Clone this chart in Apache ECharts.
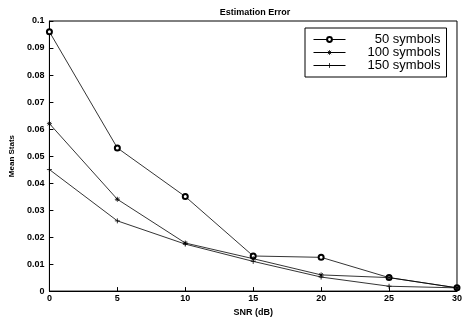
<!DOCTYPE html>
<html><head><meta charset="utf-8">
<script src="https://cdn.jsdelivr.net/npm/echarts@6/dist/echarts.min.js"></script>
<style>html,body{margin:0;padding:0;background:#fff}#c{width:465px;height:322px}</style>
</head><body><div id="c"></div>
<script>
const snr = [0, 5, 10, 15, 20, 25, 30];
const s50 = [0.096, 0.053, 0.035, 0.013, 0.0125, 0.005, 0.0012];
const s100 = [0.062, 0.034, 0.0178, 0.012, 0.006, 0.005, 0.0012];
const s150 = [0.045, 0.026, 0.0174, 0.011, 0.0052, 0.0018, 0.0012];
const names = ['50 symbols', '100 symbols', '150 symbols'];
const yTicks = [0, 0.01, 0.02, 0.03, 0.04, 0.05, 0.06, 0.07, 0.08, 0.09, 0.1];

const pair = a => snr.map((x, i) => [x, a[i]]);
const starPath = 'path://M0,-10L0,10M-10,0L10,0M-7,-7L7,7M-7,7L7,-7';
const plusPath = 'path://M0,-10L0,10M-10,0L10,0';
const font = '"Liberation Sans", Arial, sans-serif';

const chart = echarts.init(document.getElementById('c'));
const mk = (name, data, symbol, size) => ({
  name, type: 'line', data: pair(data), symbol, symbolSize: size,
  lineStyle: { color: '#000', width: 0.8 },
  itemStyle: { color: '#000', borderColor: '#000', borderWidth: 0.8 },
  emphasis: { disabled: true }, animation: false
});
chart.setOption({
  animation: false,
  title: { text: 'Estimation Error', left: 250, textAlign: 'center', top: 3,
    textStyle: { fontSize: 9, fontWeight: 'bold', fontFamily: font, color: '#000' } },
  grid: { left: 43, right: 7, top: 21, bottom: 25, show: true, borderColor: '#000', borderWidth: 1 },
  legend: {
    left: 305, top: 28, orient: 'vertical', itemWidth: 32, itemHeight: 6, itemGap: 0,
    padding: [5, 6, 5, 8], borderColor: '#000', borderWidth: 1, backgroundColor: '#fff',
    data: names,
    lineStyle: { width: 1 },
    itemStyle: { borderWidth: 0.8 },
    formatter: '{a|{name}}',
    textStyle: { color: '#000', fontFamily: font, fontSize: 13,
      rich: { a: { width: 90, align: 'right', fontSize: 13, lineHeight: 12, fontFamily: font } } }
  },
  xAxis: {
    type: 'value', min: 0, max: 30, interval: 5, name: 'SNR (dB)', nameLocation: 'middle', nameGap: 14,
    nameTextStyle: { fontSize: 9, fontWeight: 'bold', fontFamily: font, color: '#000' },
    axisLine: { lineStyle: { color: '#000' } },
    axisTick: { inside: true, length: 4, lineStyle: { color: '#000' } },
    axisLabel: { fontSize: 9, fontWeight: 'bold', fontFamily: font, color: '#000', margin: 3 },
    splitLine: { show: false }
  },
  yAxis: {
    type: 'value', min: 0, max: 0.1, interval: 0.01, name: 'Mean Stats', nameLocation: 'middle', nameGap: 28,
    nameTextStyle: { fontSize: 8, fontWeight: 'bold', fontFamily: font, color: '#000' },
    axisLine: { lineStyle: { color: '#000' } },
    axisTick: { inside: true, length: 4, lineStyle: { color: '#000' } },
    axisLabel: { fontSize: 9, fontWeight: 'bold', fontFamily: font, color: '#000', margin: 5,
      formatter: v => { const t = yTicks.find(x => Math.abs(x - v) < 1e-9); return t === undefined ? '' : String(+t.toFixed(2)); } },
    splitLine: { show: false }
  },
  series: [
    mk(names[0], s50, 'emptyCircle', 5),
    mk(names[1], s100, starPath, 5),
    mk(names[2], s150, plusPath, 5)
  ]
});
</script></body></html>
